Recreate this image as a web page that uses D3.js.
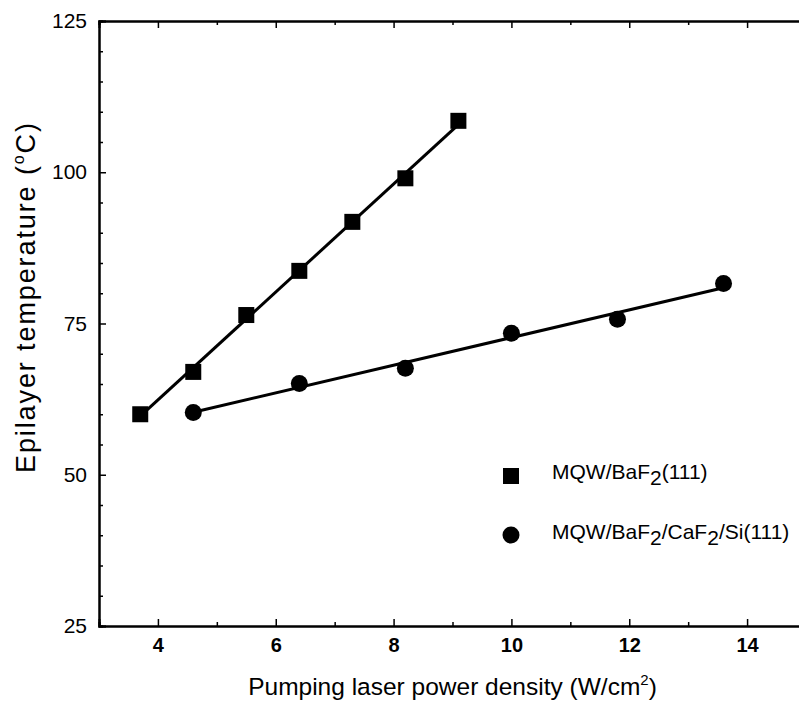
<!DOCTYPE html>
<html>
<head>
<meta charset="utf-8">
<title>Epilayer temperature vs pumping power</title>
<script src="https://d3js.org/d3.v7.min.js"></script>
<style>
  body { margin: 0; background: #fff; }
  text { font-family: "Liberation Sans", Arial, sans-serif; fill: #000; }
</style>
</head>
<body>
<div id="chart"></div>
<script>
// data
var powerBaF2 = [3.7, 4.6, 5.5, 6.4, 7.3, 8.2, 9.1];
var tempBaF2  = [60.0, 67.0, 76.4, 83.7, 91.8, 99.0, 108.5];

var powerSi = [4.6, 6.4, 8.2, 10.0, 11.8, 13.6];
var tempSi  = [60.3, 65.1, 67.6, 73.4, 75.7, 81.6];

var xTicks = [4, 6, 8, 10, 12, 14];
var yTicks = [25, 50, 75, 100, 125];

var legendLabels = [["MQW/BaF", "2", "(111)"], ["MQW/BaF", "2", "/CaF", "2", "/Si(111)"]];

// set the dimensions and margins of the graph
var margin = {top: 21, right: 0, bottom: 77, left: 99},
    width = 707,
    height = 605;

var svg = d3.select("#chart")
  .append("svg")
    .attr("width", 799)
    .attr("height", 703)
  .append("g")
    .attr("transform", "translate(" + margin.left + "," + margin.top + ")");

var x = d3.scaleLinear().domain([3, 15]).range([0, width]);
var y = d3.scaleLinear().domain([25, 125]).range([height, 0]);

var xMinor = d3.range(3, 16, 1).filter(function(v) { return v % 2 == 1; });
var yMinor = d3.range(25, 126, 5).filter(function(v) { return v % 25 != 0; });

// minor ticks (all four sides, pointing inward)
svg.append("g").attr("transform", "translate(0," + height + ")")
  .call(d3.axisBottom(x).tickValues(xMinor).tickSize(-4).tickFormat(""));
svg.append("g")
  .call(d3.axisTop(x).tickValues(xMinor).tickSize(-4).tickFormat(""));
svg.append("g")
  .call(d3.axisLeft(y).tickValues(yMinor).tickSize(-4).tickFormat(""));
svg.append("g").attr("transform", "translate(" + width + ",0)")
  .call(d3.axisRight(y).tickValues(yMinor).tickSize(-4).tickFormat(""));

// major ticks
var xAxis = svg.append("g").attr("class", "xaxis")
  .attr("transform", "translate(0," + height + ")")
  .call(d3.axisBottom(x).tickValues(xTicks).tickSize(-7).tickPadding(12).tickFormat(d3.format("d")));
svg.append("g")
  .call(d3.axisTop(x).tickValues(xTicks).tickSize(-7).tickFormat(""));
var yAxis = svg.append("g").attr("class", "yaxis")
  .call(d3.axisLeft(y).tickValues(yTicks).tickSize(-7).tickPadding(12).tickFormat(d3.format("d")));
svg.append("g").attr("transform", "translate(" + width + ",0)")
  .call(d3.axisRight(y).tickValues(yTicks).tickSize(-7).tickFormat(""));

svg.selectAll(".domain").attr("stroke", "#000").attr("stroke-width", 2);
svg.selectAll(".tick line").attr("stroke", "#000").attr("stroke-width", 1.5);
xAxis.selectAll("text")
  .attr("font-size", 20).attr("font-weight", "bold")
  .attr("font-family", "'Liberation Sans', Arial, sans-serif");
yAxis.selectAll("text")
  .attr("font-size", 21)
  .attr("font-family", "'Liberation Sans', Arial, sans-serif");

// least squares fit of a series
function fit(xs, ys) {
  var mx = d3.mean(xs), my = d3.mean(ys);
  var sxy = d3.sum(xs, function(v, i) { return (v - mx) * (ys[i] - my); });
  var sxx = d3.sum(xs, function(v) { return (v - mx) * (v - mx); });
  var b = sxy / sxx, a = my - b * mx;
  var ext = d3.extent(xs);
  return ext.map(function(v) { return [v, a + b * v]; });
}

var line = d3.line()
  .x(function(d) { return x(d[0]); })
  .y(function(d) { return y(d[1]); });

[fit(powerBaF2, tempBaF2), fit(powerSi, tempSi)].forEach(function(pts) {
  svg.append("path")
    .attr("d", line(pts))
    .attr("fill", "none")
    .attr("stroke", "#000")
    .attr("stroke-width", 3);
});

// squares
svg.selectAll("rect.pt")
  .data(powerBaF2)
  .enter()
  .append("rect")
    .attr("class", "pt")
    .attr("x", function(d) { return x(d) - 8; })
    .attr("y", function(d, i) { return y(tempBaF2[i]) - 8; })
    .attr("width", 16)
    .attr("height", 16)
    .attr("fill", "#000");

// circles
svg.selectAll("circle.pt")
  .data(powerSi)
  .enter()
  .append("circle")
    .attr("class", "pt")
    .attr("cx", function(d) { return x(d); })
    .attr("cy", function(d, i) { return y(tempSi[i]); })
    .attr("r", 8.5)
    .attr("fill", "#000");

// legend
var legend = svg.append("g").attr("transform", "translate(" + (511 - margin.left) + "," + (476 - margin.top) + ")");
legend.append("rect").attr("x", -8).attr("y", -8).attr("width", 16).attr("height", 16).attr("fill", "#000");
legend.append("circle").attr("cx", 0).attr("cy", 59).attr("r", 8.5).attr("fill", "#000");

legendLabels.forEach(function(parts, row) {
  var t = legend.append("text")
    .attr("x", 41)
    .attr("y", 3 + row * 60)
    .attr("dy", "0.35em")
    .attr("font-size", 21);
  parts.forEach(function(p, i) {
    var sub = (p == "2");
    t.append("tspan")
      .attr("dy", sub ? 6 : (i > 0 ? -6 : 0))
      .text(p);
  });
});

// axis titles
var xt = svg.append("text")
  .attr("x", width / 2)
  .attr("y", 695 - margin.top)
  .attr("text-anchor", "middle")
  .attr("font-size", 24.5);
xt.append("tspan").text("Pumping laser power density (W/cm");
xt.append("tspan").attr("dy", -10).attr("font-size", 15).text("2");
xt.append("tspan").attr("dy", 10).text(")");

var yt = svg.append("text")
  .attr("transform", "translate(" + (35 - margin.left) + "," + (298 - margin.top) + ") rotate(-90)")
  .attr("text-anchor", "middle")
  .attr("font-size", 27)
  .attr("textLength", 350)
  .attr("lengthAdjust", "spacing");
yt.append("tspan").text("Epilayer temperature (");
yt.append("tspan").attr("dy", -11).attr("font-size", 16).text("o");
yt.append("tspan").attr("dy", 11).text("C)");
</script>
</body>
</html>
